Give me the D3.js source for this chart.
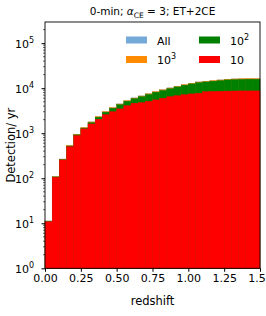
<!DOCTYPE html>
<html>
<head>
<meta charset="utf-8">
<script src="https://cdn.jsdelivr.net/npm/d3@7"></script>
<style>
  body { margin: 0; background: #fff; }
  svg { display: block; font-family: "DejaVu Sans", sans-serif; }
</style>
</head>
<body>
<div id="chart"></div>
<script>
// lower edges of the redshift bins (width 0.05)
const binStarts = [0.00, 0.05, 0.10, 0.15, 0.20, 0.25, 0.30, 0.35, 0.40, 0.45,
                   0.50, 0.55, 0.60, 0.65, 0.70, 0.75, 0.80, 0.85, 0.90, 0.95,
                   1.00, 1.05, 1.10, 1.15, 1.20, 1.25, 1.30, 1.35, 1.40, 1.45]
const binWidth = 0.05

const allCounts = [11.3, 110, 268, 538, 955, 1347, 1790, 2362, 3045, 3728,
                   4482, 5336, 6090, 6753, 7557, 8452, 9266, 10170, 11095, 12100,
                   12944, 13819, 14321, 14854, 15316, 15869, 16120, 16301, 16452, 16452]
const counts1e3 = [11.2, 109, 266, 535, 950, 1340, 1780, 2350, 3030, 3710,
                   4460, 5310, 6060, 6720, 7520, 8410, 9220, 10120, 11040, 12040,
                   12880, 13750, 14250, 14780, 15240, 15790, 16040, 16220, 16370, 16370]
const counts1e2 = [11, 107, 260, 520, 920, 1300, 1720, 2270, 2930, 3590,
                   4320, 5140, 5870, 6510, 7280, 8150, 8930, 9800, 10690, 11660,
                   12470, 13320, 13800, 14310, 14760, 15290, 15530, 15700, 15850, 15850]
const counts10 = [10.8, 105, 255, 505, 890, 1250, 1610, 2050, 2590, 3020,
                  3470, 4100, 4640, 4790, 5140, 5500, 5990, 6510, 6850, 7210,
                  7470, 7740, 8400, 8490, 8580, 8630, 8670, 8710, 8710, 8710]

const xTicks = [0, 0.25, 0.5, 0.75, 1.0, 1.25, 1.5]
const yTicks = [1e0, 1e1, 1e2, 1e3, 1e4, 1e5]

const series = [
    {name: "All", sup: null, values: allCounts, color: "#74a9d8"},
    {name: "10", sup: "3", values: counts1e3, color: "#ff8c00"},
    {name: "10", sup: "2", values: counts1e2, color: "#008000"},
    {name: "10", sup: null, values: counts10, color: "#ff0000"}
]

let config = {
    width: 266,
    height: 316,
    marginLeft: 45,
    marginRight: 6,
    marginTop: 22,
    marginBottom: 47.7
}

const svg = d3.select("#chart")
    .append("svg")
    .attr("width", config.width)
    .attr("height", config.height)

const x = d3.scaleLinear()
    .domain([0, 1.5])
    .range([config.marginLeft, config.width - config.marginRight])

const y = d3.scaleLog()
    .domain([1, Math.pow(10, 5.47)])
    .range([config.height - config.marginBottom, config.marginTop])

const plot = svg.append("g")

// overlaid histograms, widest first
series.forEach(s => {
    plot.append("g")
        .selectAll("rect")
        .data(binStarts)
        .join("rect")
        .attr("x", d => x(d))
        .attr("width", d => x(d + binWidth) - x(d))
        .attr("y", (d, i) => y(s.values[i]))
        .attr("height", (d, i) => y(1) - y(s.values[i]))
        .attr("fill", s.color)
        .attr("stroke", s.color)
        .attr("stroke-width", 0.35)
})

// axes
const xAxis = d3.axisBottom(x)
    .tickValues(xTicks)
    .tickSize(3.5)
    .tickPadding(2)
    .tickFormat(d3.format(".2f"))

const gx = svg.append("g")
    .attr("transform", `translate(0,${y(1)})`)
    .call(xAxis)
gx.select(".domain").remove()
gx.selectAll("text").attr("font-size", 11).attr("fill", "#000").attr("font-family", "DejaVu Sans")

// minor ticks on the log axis
let minor = []
for (let dec = 1; dec < 1e6; dec *= 10) {
    [2, 3, 4, 5, 6, 7, 8, 9].forEach(m => {
        if (dec * m < y.domain()[1]) minor.push(dec * m)
    })
}
svg.append("g")
    .selectAll("line")
    .data(minor)
    .join("line")
    .attr("x1", config.marginLeft - 2)
    .attr("x2", config.marginLeft)
    .attr("y1", d => y(d))
    .attr("y2", d => y(d))
    .attr("stroke", "#000")
    .attr("stroke-width", 0.6)

const yAxis = d3.axisLeft(y)
    .tickValues(yTicks)
    .tickSize(3.5)
    .tickPadding(2)
    .tickFormat("")

const gy = svg.append("g")
    .attr("transform", `translate(${config.marginLeft},0)`)
    .call(yAxis)
gy.select(".domain").remove()

const yLabels = svg.append("g")
    .selectAll("text")
    .data(yTicks)
    .join("text")
    .attr("x", config.marginLeft - 11)
    .attr("y", d => y(d) + 4.5)
    .attr("text-anchor", "end")
    .attr("font-size", 11)
yLabels.append("tspan").text("10")
yLabels.append("tspan")
    .attr("dy", -5)
    .attr("font-size", 8)
    .text(d => Math.round(Math.log10(d)))

// frame
svg.append("rect")
    .attr("x", x(0))
    .attr("y", config.marginTop)
    .attr("width", x(1.5) - x(0))
    .attr("height", y(1) - config.marginTop)
    .attr("fill", "none")
    .attr("stroke", "#000")
    .attr("stroke-width", 0.9)

// title
const title = svg.append("text")
    .attr("x", (x(0) + x(1.5)) / 2)
    .attr("y", 15)
    .attr("text-anchor", "middle")
    .attr("font-size", 10.5)
title.append("tspan").text("0-min; ")
title.append("tspan").attr("font-style", "italic").text("α")
title.append("tspan").attr("font-size", 7.5).attr("dy", 2.5).text("CE")
title.append("tspan").attr("dy", -2.5).text(" = 3; ET+2CE")

// axis labels
svg.append("text")
    .attr("x", (x(0) + x(1.5)) / 2)
    .attr("y", 305)
    .attr("text-anchor", "middle")
    .attr("font-size", 11.5)
    .text("redshift")

svg.append("text")
    .attr("transform", `translate(15,${(y(1) + config.marginTop) / 2}) rotate(-90)`)
    .attr("text-anchor", "middle")
    .attr("font-size", 11.5)
    .text("Detection/ yr")

// legend, two columns
const legendPos = [
    {x: 126, y: 40},
    {x: 126, y: 59.5},
    {x: 199, y: 40},
    {x: 199, y: 59.5}
]
const legend = svg.append("g")
    .selectAll("g")
    .data(series)
    .join("g")
    .attr("transform", (d, i) => `translate(${legendPos[i].x},${legendPos[i].y})`)

legend.append("rect")
    .attr("x", 0)
    .attr("y", -3.5)
    .attr("width", 21)
    .attr("height", 7)
    .attr("fill", d => d.color)

const legendText = legend.append("text")
    .attr("x", 31)
    .attr("y", 4.5)
    .attr("font-size", 11)
legendText.append("tspan").text(d => d.name)
legendText.filter(d => d.sup)
    .append("tspan")
    .attr("dy", -5)
    .attr("font-size", 8)
    .text(d => d.sup)
</script>
</body>
</html>
